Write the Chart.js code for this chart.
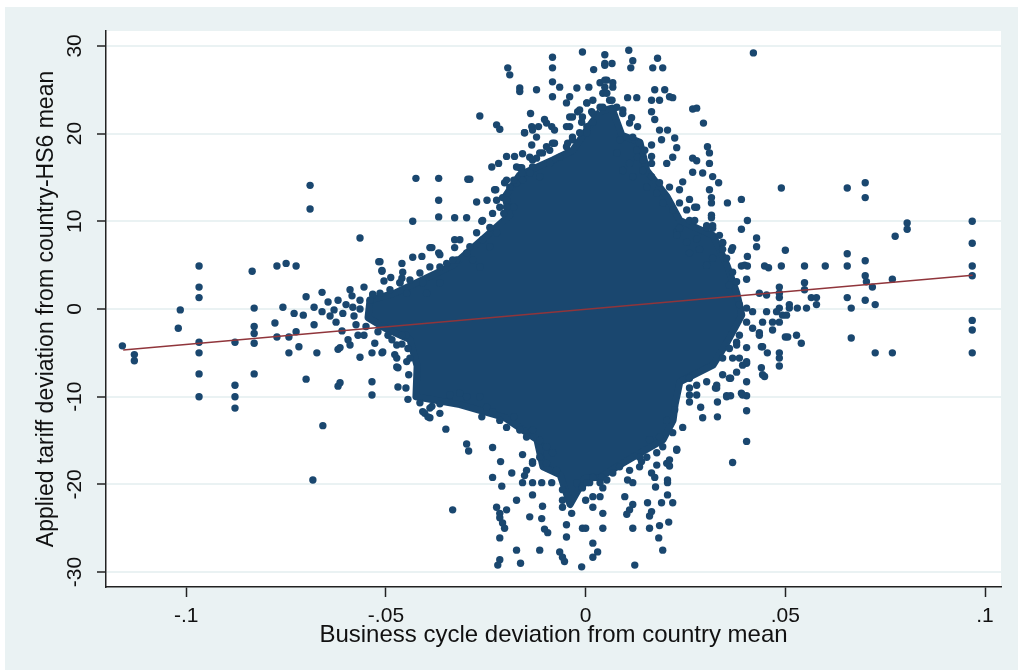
<!DOCTYPE html>
<html>
<head>
<meta charset="utf-8">
<script src="https://cdn.jsdelivr.net/npm/chart.js@4.4.1/dist/chart.umd.min.js"></script>
<style>
    html, body { margin: 0; padding: 0; background: #ffffff; }
    #panel { position: absolute; left: 5px; top: 7px; width: 1013px; height: 663px; background: #eaf2f3; }
    #scatter { position: absolute; left: 0; top: 0; }
</style>
</head>
<body>
<div id="panel"></div>
<canvas id="scatter" width="1018" height="670"></canvas>
<script>
//-------------------------------------------------------- data
// axis ticks
const xTickVals = [-0.1, -0.05, 0, 0.05, 0.1];
const xTickText = ['-.1', '-.05', '0', '.05', '.1'];
const yTickVals = [-30, -20, -10, 0, 10, 20, 30];

// outline of the solid core of the cloud (too dense to see single points)
const blobX = [0.0036, 0.0066, 0.0091, 0.0136, 0.0153, 0.0204, 0.0236, 0.0319, 0.0354, 0.0378,
    0.0391, 0.0354, 0.0319, 0.0236, 0.0224, 0.0219, 0.0194, 0.0093, 0.0036, -0.0002,
    -0.0039, -0.0064, -0.0107, -0.0122, -0.0202, -0.0315, -0.0425, -0.0422, -0.0440, -0.0502,
    -0.0545, -0.054, -0.0478, -0.0332, -0.0247, -0.019, -0.0202, -0.0165, -0.0082, -0.0032,
    0.0011, 0.0036];
const blobY = [22.5, 22.9, 19.8, 19.0, 15.8, 12.8, 10.1, 8.4, 5.0, 1.9,
    -0.7, -3.8, -6.4, -8.3, -10.9, -12.7, -14.9, -17.6, -19.2, -19.3,
    -22.3, -18.9, -18.0, -14.9, -12.4, -10.9, -10.0, -6.5, -3.5, -2.2,
    -1.0, 1.0, 1.8, 5.0, 8.4, 10.7, 12.8, 15.3, 17.0, 18.1,
    21.0, 22.5];

// single observations outside the core
const pointX = [
    // left tail
    -0.069, -0.069, -0.0968, -0.0968, -0.0968, -0.1015, -0.0835, -0.083, -0.0773, -0.075,
    -0.0725, -0.066, -0.070, -0.0758, -0.073, -0.0707, -0.068, -0.0645, -0.063, -0.0778,
    -0.068, -0.102, -0.083, -0.116, -0.113, -0.113, -0.0968, -0.0968, -0.0968, -0.0968,
    -0.0878, -0.0878, -0.0878, -0.0878, -0.083, -0.083, -0.083, -0.0773, -0.0743, -0.0743,
    -0.0718, -0.0725, -0.0673, -0.070, -0.0658, -0.0683, -0.062, -0.062,
    -0.060, -0.058, -0.0585, -0.0565, -0.055, -0.0555, -0.061, -0.064, -0.0595, -0.057,
    // upper middle
    -0.0565, -0.0433, -0.0425, -0.0368, -0.0295, -0.029, -0.0368, -0.0368, -0.0328, -0.0298,
    -0.0273, -0.0265, -0.0223, -0.0215, -0.0195, -0.019, -0.0165, -0.0165, -0.0123, -0.0083,
    -0.0083, -0.0008, 0.0048, 0.0048, 0.0066, 0.002, 0.0108, 0.0118, 0.0113, 0.018,
    0.0168, 0.0193, -0.0083, -0.0065, -0.0022, 0.0008, -0.0083, -0.004, -0.0048, -0.0138,
    -0.0153, -0.0135, -0.0118, -0.0098, -0.0083, -0.0235, -0.0218, -0.0198, -0.0178, -0.0158,
    -0.0165, -0.0225, -0.0203, -0.0518, -0.051, -0.0488, -0.046, -0.0433, -0.041, -0.039,
    -0.0368, -0.0328, -0.0328, -0.0533, -0.046, -0.0465, -0.0458, -0.026, -0.0365, -0.0385,
    // upper right
    0.042, 0.0173, 0.0198, 0.021, 0.0218, 0.0165, 0.0185, 0.0268, 0.0278, 0.0295,
    0.0105, 0.0128, 0.0093, 0.0115, 0.0165, 0.0173, 0.0185, 0.0205, 0.0223, 0.019,
    0.0165, 0.0228, 0.0218, 0.0165, 0.0305, 0.031, 0.0268, 0.0278, 0.031, 0.0203,
    0.0268, 0.0293, 0.0318, 0.0333, 0.031, 0.0315, 0.0315, 0.0355, 0.039, 0.049,
    0.0315, 0.0405, 0.0243, 0.026, 0.0273,
    0.0655, 0.070, 0.070, 0.0303, 0.0318, 0.039, 0.0968, 0.0805, 0.0805, 0.0775,
    0.0428, 0.0428, 0.050, 0.0405, 0.0365, 0.0343, 0.039, 0.0405, 0.0448, 0.0458,
    0.049, 0.0548, 0.060, 0.0655, 0.0655, 0.070, 0.0968, 0.0968, 0.0968, 0.0403,
    0.0485, 0.0485, 0.0548, 0.0548, 0.0565, 0.0578, 0.0578, 0.0553, 0.053, 0.0655,
    0.0665, 0.070, 0.0703, 0.0718, 0.070, 0.0725, 0.0768, 0.0968, 0.0968, 0.0435,
    0.0453, 0.0485, 0.051,
    0.026, 0.0273, 0.0228, 0.0303, 0.0315, 0.0343, 0.0368, 0.0398, 0.0485, 0.051,
    0.0493, 0.0468, 0.0443,
    // lower right
    0.0968, 0.0725, 0.0768, 0.0665, 0.050, 0.0528, 0.054, 0.0485, 0.0485, 0.044,
    0.0455, 0.044, 0.0448, 0.0403, 0.0403, 0.039, 0.0403, 0.0403, 0.0403, 0.0368,
    0.0363, 0.0353, 0.0363, 0.033, 0.033, 0.0293, 0.0288, 0.0325, 0.026, 0.0243,
    0.0506, 0.0468, 0.0435, 0.0443, 0.0485, 0.0443, 0.0403, 0.0378, 0.0385, 0.0393,
    0.036, 0.0328, 0.0353, 0.0393, 0.026, 0.026, 0.0278,
    // lower middle
    -0.0403, -0.039, -0.0385, -0.0365, -0.035, -0.0298, -0.0293, -0.026, -0.0233, -0.0213,
    -0.0233, -0.021, -0.0185, -0.0158, -0.0133, -0.0153, -0.0158, -0.0133, -0.011, -0.0085,
    -0.0133, -0.0173, -0.0333, -0.0223, -0.0215, -0.0198, -0.0215, -0.0208, -0.0203, -0.0108,
    -0.014, -0.011, -0.0103, -0.0095, -0.0215, -0.0173, -0.0115, -0.0215, -0.022, -0.0163,
    -0.0065, -0.0058, -0.0053, -0.0048, -0.0048, -0.0035, -0.0058, -0.0058, -0.0058, -0.001,
    -0.0008, -0.0022, -0.0008,
    0.0228, 0.0203, 0.021, 0.0178, 0.0165, 0.0173, 0.0205, 0.0205, 0.0175, 0.014,
    0.0135, 0.0105, 0.0118, 0.0098, 0.0118, 0.011, 0.0103, 0.0155, 0.0165, 0.016,
    0.019, 0.0205, 0.0218, 0.0208, 0.0185, 0.0183, 0.0193, 0.016, 0.0118, 0.0043,
    0.0, 0.0018, 0.003, 0.0018, 0.0123, 0.0043, 0.0018, 0.0, 0.0018, 0.0036,
    0.004, 0.0043, -0.0008, 0.001,
    // left of the core
    -0.0535, -0.0535, -0.047, -0.0615, -0.0565, -0.0535, -0.051, -0.059, -0.0615, -0.0473,
    -0.0473, -0.047, -0.044, -0.0408, -0.0395, -0.0528, -0.0508, -0.0478, -0.0473, -0.0515,
    -0.051, -0.0533
];
const pointY = [
    // left tail
    14.1, 11.4, 4.9, 2.5, 1.3, -0.1, 4.3, 0.1, 4.9, 5.2,
    4.9, 1.9, 1.4, 0.2, -0.5, -0.7, 0.2, 0.8, -0.1, -1.6,
    -1.8, -2.2, -2.0, -4.2, -5.2, -5.9, -3.8, -5.0, -7.4, -10.0,
    -3.8, -8.7, -10.0, -11.3, -2.8, -3.9, -7.4, -3.2, -3.2, -5.0,
    -4.3, -2.6, -5.0, -8.0, -13.3, -19.5, -8.8, -4.6,
    0.5, -0.8, 1.5, 0.0, -2.0, 2.5, -2.5, -0.8, -3.5, -3.0,
    // upper middle
    8.1, 10.0, 14.9, 14.9, 14.8, 14.8, 12.4, 10.5, 10.4, 10.4,
    12.2, 22.0, 21.0, 20.5, 27.5, 26.7, 25.2, 24.8, 25.0, 28.7,
    27.5, 29.3, 29.0, 27.8, 28.0, 27.3, 29.5, 28.3, 27.5, 28.6,
    27.5, 27.5, 25.9, 25.3, 25.2, 25.3, 24.2, 24.2, 23.5, 22.3,
    20.1, 20.8, 20.8, 21.2, 18.9, 16.2, 16.6, 17.4, 17.4, 17.7,
    16.1, 13.6, 14.4, 5.4, 4.4, 3.6, 5.2, 5.9, 6.0, 7.0,
    6.4, 7.9, 7.0, 1.7, 3.5, 3.0, 4.2, 10.0, 6.2, 7.0,
    // upper right
    29.2, 25.0, 25.0, 24.2, 24.1, 23.8, 23.8, 22.8, 22.9, 21.2,
    24.1, 24.1, 22.7, 21.8, 22.5, 21.6, 20.4, 20.4, 19.5, 19.3,
    18.7, 18.4, 17.3, 17.4, 18.5, 17.8, 17.2, 16.9, 16.6, 16.6,
    15.6, 15.5, 15.1, 14.4, 13.6, 12.7, 12.1, 12.1, 12.5, 13.8,
    10.7, 10.1, 14.5, 12.5, 11.6,
    13.8, 14.4, 12.7, 9.5, 9.5, 9.1, 10.0, 9.8, 9.1, 8.3,
    8.1, 7.1, 6.7, 6.0, 6.7, 7.5, 4.9, 4.9, 4.9, 4.7,
    4.9, 4.9, 4.9, 6.3, 4.9, 5.5, 7.5, 4.9, 3.8, 3.4,
    2.5, 1.8, 3.0, 2.2, 1.3, 1.3, 0.5, 0.1, 0.1, 1.3,
    0.1, 3.8, 3.1, 2.5, 1.0, 0.5, 3.4, -1.3, -2.4, 1.8,
    1.6, 0.1, 0.1,
    10.1, 10.1, 8.8, 9.3, 10.4, 7.6, 7.0, 5.0, 1.3, 0.5,
    -0.7, -1.5, -1.5,
    // lower right
    -5.0, -5.0, -5.0, -3.3, -3.2, -3.0, -3.9, -5.0, -6.5, -4.3,
    -5.0, -6.7, -7.7, -6.2, -8.3, -9.6, -9.9, -11.6, -15.1, -17.5,
    -9.9, -9.9, -7.9, -10.6, -12.3, -12.4, -11.2, -9.0, -9.8, -13.5,
    -3.2, -2.4, -2.7, -4.3, -5.6, -7.5, -4.4, -3.8, -5.6, -6.4,
    -7.9, -9.0, -10.0, -9.8, -7.9, -9.0, -8.7,
    // lower middle
    -11.9, -12.4, -11.1, -10.8, -13.7, -15.4, -16.2, -12.3, -15.8, -17.4,
    -19.2, -20.2, -18.7, -16.6, -17.4, -19.0, -19.8, -19.8, -19.8, -19.8,
    -21.2, -21.8, -22.9, -22.6, -23.3, -22.9, -23.8, -24.4, -25.0, -22.5,
    -23.7, -23.9, -25.1, -25.5, -26.1, -27.5, -27.5, -28.6, -29.2, -29.0,
    -27.7, -28.3, -28.8, -26.0, -24.6, -23.3, -21.8, -22.6, -20.6, -29.4,
    -25.0, -19.8, -20.2,
    -16.0, -17.6, -17.9, -17.8, -18.7, -19.2, -19.5, -19.8, -20.3, -17.4,
    -16.9, -19.5, -19.8, -21.4, -22.3, -22.9, -23.4, -22.1, -23.1, -23.6,
    -22.1, -21.2, -22.1, -24.3, -24.7, -26.1, -27.5, -25.0, -25.0, -25.0,
    -25.0, -26.7, -27.7, -28.3, -29.2, -23.3, -22.6, -21.8, -21.4, -21.4,
    -19.2, -20.4, -20.4, -19.8,
    // left of the core
    -8.3, -9.8, -8.9, -8.4, -5.5, -5.0, -5.0, -4.1, -4.4, -4.1,
    -5.6, -6.7, -5.6, -11.7, -12.3, -3.9, -4.9, -5.2, -6.6, 5.4,
    4.3, 1.6
];

// observations packed close around the core
const haloX = [
    // upper left edge
    -0.0153, -0.0133, -0.0123, -0.0135, -0.0103, -0.0085, -0.0078, -0.004, -0.002, -0.001,
    -0.004, -0.0033, -0.0045, -0.0078, -0.009, -0.0108, -0.014, -0.0123, -0.0133, -0.014,
    -0.0115, -0.009, -0.016, -0.0173, -0.0198, -0.019, -0.0173, -0.0158, -0.0228, -0.0208,
    -0.0198, -0.0215, -0.018, -0.016, -0.0198, -0.018, -0.0205, -0.0258, -0.024, -0.0223,
    -0.0273, -0.0258, -0.024, -0.0298, -0.0283, -0.0265, -0.0323, -0.0348, -0.0365, -0.039,
    -0.0415, -0.044, -0.0465, -0.0408, -0.0365, -0.049, -0.0515, -0.054, -0.0565, -0.0583,
    -0.0608, -0.0448, -0.0398, -0.0315, -0.0333, -0.029, -0.0247, -0.0223, -0.0233,
    -0.0098, -0.0115, -0.0133, -0.0065, -0.0048, -0.0033, -0.0015, -0.0048, -0.0033, -0.0015,
    0.0003, 0.0018, 0.0003, 0.0036, 0.0053, 0.0068, 0.0043, 0.006, 0.0078, 0.0036, 0.0018,
    // upper right edge
    0.0048, 0.0048, 0.0048, 0.0068, 0.0053, 0.0066, 0.0043, 0.0003, -0.0008, 0.0015,
    0.0018, 0.0003, 0.0093, 0.011, 0.013, 0.0118, 0.0135, 0.0148, 0.013, 0.011,
    0.0086, 0.0078, 0.0093, 0.0118, 0.0143, 0.0165, 0.0185, 0.0178, 0.0153, 0.021,
    0.0235, 0.0193, 0.0218, 0.0235, 0.0253, 0.0278, 0.0143, 0.0128, 0.0165,
    // right edge
    0.0235, 0.0228, 0.0253, 0.0278, 0.0285, 0.026, 0.0318, 0.0335, 0.0343, 0.0353,
    0.0318, 0.0303, 0.0368, 0.0378, 0.036, 0.0385, 0.0403, 0.0418, 0.0453, 0.0478,
    0.0503, 0.0485, 0.0403, 0.0418, 0.0435, 0.0385, 0.0378, 0.036, 0.0343, 0.0368,
    0.0403, 0.0378, 0.0343, 0.0328, 0.0303, 0.0278, 0.026,
    // lower left edge
    -0.0415, -0.039, -0.0365, -0.034, -0.0315, -0.0298, -0.0265, -0.0248, -0.0233, -0.0215,
    -0.0198, -0.018, -0.0165, -0.0148, -0.0133, -0.0115, -0.0098, -0.0083, -0.0115, -0.0133,
    -0.0148, -0.0098, -0.0073,
    // lower right edge
    0.0218, 0.0228, 0.021, 0.0193, 0.0178, 0.0153, 0.0135, 0.011, 0.0085, 0.0068,
    0.0053, 0.0036, 0.0018, 0.0003, 0.016, 0.0185, 0.0203, 0.0223,
    // band left of the core around zero
    -0.062, -0.0625, -0.066, -0.0575, -0.0555, -0.059, -0.0505, -0.0495, -0.052, -0.0485,
    -0.046, -0.045,
    // left edge of the core below zero
    -0.0445, -0.0448, -0.0443, -0.045, -0.0445, -0.046
];
const haloY = [
    // upper left edge
    20.1, 20.4, 19.6, 18.7, 21.6, 20.8, 20.4, 21.9, 22.5, 21.3,
    20.8, 19.6, 18.9, 18.9, 18.1, 17.8, 17.3, 17.2, 16.2, 15.5,
    15.1, 16.6, 16.1, 16.2, 14.7, 13.9, 14.4, 14.7, 13.6, 12.7,
    11.6, 11.6, 14.7, 15.5, 12.4, 11.6, 10.9, 10.1, 9.3, 8.7,
    8.7, 7.9, 7.1, 6.4, 5.6, 4.8, 5.6, 5.2, 4.8, 4.8,
    4.1, 3.3, 3.0, 3.0, 3.0, 2.2, 1.8, 1.0, 1.0, 0.2,
    -0.5, 1.8, 1.8, 7.9, 5.6, 7.1, 12.4, 12.4, 10.9,
    18.5, 17.8, 17.0, 17.3, 18.5, 19.3, 20.1, 20.8, 21.9, 22.7,
    23.5, 22.3, 20.8, 25.8, 26.1, 25.3, 24.6, 23.8, 23.0, 23.0, 23.8,
    // upper right edge
    28.0, 26.1, 25.3, 25.8, 24.6, 23.8, 23.0, 23.5, 21.9, 22.5,
    21.3, 20.1, 22.3, 21.2, 20.8, 19.6, 18.9, 18.1, 17.3, 16.6,
    19.3, 17.8, 15.8, 15.1, 15.8, 15.1, 14.4, 13.2, 13.9, 13.9,
    13.6, 12.1, 11.3, 12.1, 11.3, 11.6, 17.0, 18.1, 16.6,
    // right edge
    9.2, 8.4, 7.6, 8.0, 6.8, 6.4, 9.2, 8.4, 6.8, 5.8,
    5.8, 5.0, 4.2, 3.1, 2.7, 0.5, 0.1, -0.3, -0.3, -0.3,
    -0.7, -1.5, -1.5, -2.2, -3.0, -3.0, -4.1, -4.5, -5.6, -5.6,
    -6.0, -7.2, -7.5, -8.7, -8.3, -9.8, -10.6,
    // lower left edge
    -10.7, -11.3, -11.9, -9.8, -9.6, -10.0, -10.0, -11.2, -11.7, -12.7,
    -13.5, -12.3, -13.8, -14.6, -13.8, -15.0, -15.7, -16.4, -16.9, -17.6,
    -18.4, -17.6, -18.4,
    // lower right edge
    -14.1, -16.1, -17.2, -15.7, -16.4, -16.9, -18.0, -18.4, -18.0, -18.7,
    -19.5, -19.8, -19.2, -19.8, -14.9, -14.6, -12.7, -11.5,
    // band left of the core around zero
    1.0, -1.5, -0.3, -1.8, -3.0, 2.2, 3.2, -3.0, -2.6, -3.5,
    -4.0, -3.0,
    // left edge of the core below zero
    -4.5, -6.0, -7.5, -9.0, -10.3, -3.0
];

// fitted line (end points)
const fitX = [-0.1158, 0.0969];
const fitY = [-4.67, 3.84];

//-------------------------------------------------------- chart
const navy = '#1a476f';
const textColor = '#111111';
const fontFamily = '"Liberation Sans", Arial, sans-serif';

function toXY(xs, ys) {
    return xs.map((x, i) => ({ x: x, y: ys[i] }));
}

// white plot region, rest of the canvas stays on the grey panel
const plotBackground = {
    id: 'plotBackground',
    beforeDraw(chart) {
        const { ctx, chartArea } = chart;
        ctx.save();
        ctx.fillStyle = '#ffffff';
        ctx.fillRect(chartArea.left, chartArea.top, chartArea.right - chartArea.left, chartArea.bottom - chartArea.top);
        ctx.restore();
    }
};

loadScatter();

function loadScatter() {
    const ctx = document.getElementById('scatter');
    new Chart(ctx, {
        type: 'scatter',
        data: {
            datasets: [
                {
                    label: 'Fitted values',
                    data: toXY(fitX, fitY),
                    showLine: true,
                    borderColor: '#90353b',
                    borderWidth: 1.6,
                    pointRadius: 0,
                    fill: false
                },
                {
                    label: 'Observations',
                    data: toXY(pointX, pointY).concat(toXY(haloX, haloY)),
                    pointRadius: 3.7,
                    pointBackgroundColor: navy,
                    pointBorderWidth: 0
                },
                {
                    label: 'Core',
                    data: toXY(blobX, blobY),
                    showLine: true,
                    tension: 0,
                    borderColor: navy,
                    borderWidth: 7,
                    borderJoinStyle: 'round',
                    backgroundColor: navy,
                    fill: 'shape',
                    pointRadius: 0
                }
            ]
        },
        options: {
            responsive: false,
            animation: false,
            layout: {
                padding: { left: 33, right: 17, top: 31, bottom: 0 }
            },
            plugins: {
                legend: { display: false },
                tooltip: { enabled: false }
            },
            scales: {
                x: {
                    type: 'linear',
                    min: -0.1201,
                    max: 0.104,
                    afterBuildTicks: s => { s.ticks = xTickVals.map(v => ({ value: v })); },
                    afterFit: s => { s.height = 83; },
                    grid: {
                        drawOnChartArea: false,
                        tickLength: 10,
                        tickColor: '#222',
                        tickWidth: 1.5
                    },
                    border: { color: '#222', width: 1.5 },
                    ticks: {
                        autoSkip: false,
                        maxRotation: 0,
                        padding: 7,
                        color: textColor,
                        font: { family: fontFamily, size: 21 },
                        callback: (v, i) => xTickText[i]
                    },
                    title: {
                        display: true,
                        text: 'Business cycle deviation from country mean',
                        color: textColor,
                        font: { family: fontFamily, size: 24 },
                        padding: { top: 0, bottom: 20 }
                    }
                },
                y: {
                    type: 'linear',
                    min: -31.7,
                    max: 31.7,
                    afterBuildTicks: s => { s.ticks = yTickVals.map(v => ({ value: v })); },
                    afterFit: s => { s.width = 73; },
                    grid: {
                        color: '#eaf2f3',
                        lineWidth: 2,
                        tickLength: 9,
                        tickColor: '#222',
                        tickWidth: 1.5
                    },
                    border: { color: '#222', width: 1.5 },
                    ticks: {
                        autoSkip: false,
                        minRotation: 90,
                        maxRotation: 90,
                        crossAlign: 'center',
                        padding: 7,
                        color: textColor,
                        font: { family: fontFamily, size: 21 },
                        callback: v => String(v)
                    },
                    title: {
                        display: true,
                        text: 'Applied tariff deviation from country-HS6 mean',
                        color: textColor,
                        font: { family: fontFamily, size: 23 },
                        padding: { top: 0, bottom: 0 }
                    }
                }
            }
        },
        plugins: [plotBackground]
    });
}
</script>
</body>
</html>
